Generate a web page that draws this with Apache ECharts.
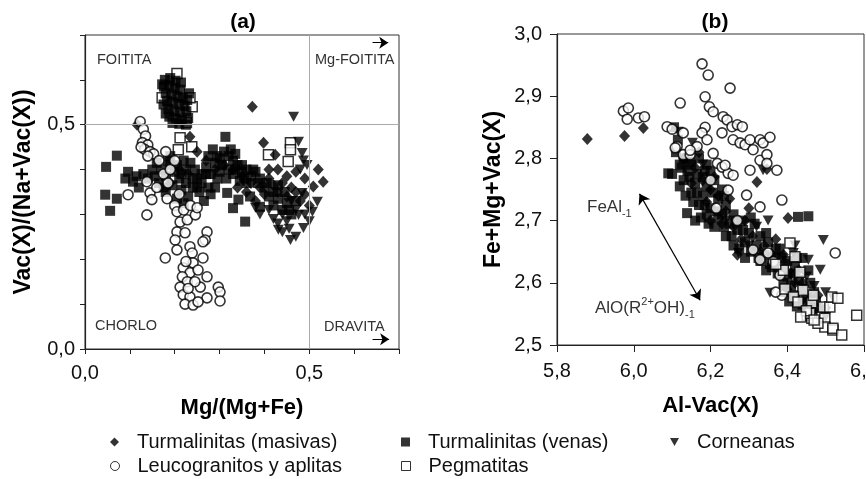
<!DOCTYPE html>
<html>
<head>
<meta charset="utf-8">
<script src="https://cdn.jsdelivr.net/npm/echarts@6/dist/echarts.min.js"></script>
<style>
html,body{margin:0;padding:0;background:#fff;}
#c{width:866px;height:479px;}
</style>
</head>
<body>
<div id="c"></div>
<script>
// ---------- DATA ----------
const seriesNames = ['Turmalinitas (masivas)', 'Turmalinitas (venas)', 'Corneanas', 'Leucogranitos y aplitas', 'Pegmatitas'];

// Panel (a): [Mg/(Mg+Fe), Vac(X)/(Na+Vac(X))]
const aMasivas = [[0.373,0.540],[0.116,0.500],[0.234,0.473],[0.398,0.460],[0.424,0.433],[0.520,0.400],[0.531,0.373],[0.509,0.362],[0.250,0.440],[0.270,0.420],[0.290,0.400],[0.310,0.410],[0.330,0.400],[0.350,0.385],[0.370,0.370],[0.390,0.360],[0.410,0.380],[0.420,0.365],[0.430,0.350],[0.440,0.370],[0.450,0.340],[0.460,0.360],[0.470,0.350],[0.480,0.330],[0.490,0.345],[0.500,0.320],[0.400,0.345],[0.380,0.330],[0.360,0.350],[0.340,0.360],[0.470,0.395],[0.490,0.380],[0.210,0.400],[0.190,0.370],[0.230,0.390],[0.450,0.385],[0.430,0.400],[0.410,0.400]];
const aVenas = [[0.178,0.600],[0.190,0.604],[0.202,0.598],[0.214,0.594],[0.176,0.585],[0.188,0.588],[0.200,0.582],[0.212,0.578],[0.180,0.570],[0.193,0.567],[0.206,0.563],[0.218,0.560],[0.183,0.553],[0.196,0.550],[0.209,0.546],[0.222,0.542],[0.186,0.535],[0.199,0.530],[0.212,0.527],[0.226,0.530],[0.188,0.518],[0.202,0.514],[0.216,0.511],[0.230,0.515],[0.195,0.504],[0.210,0.502],[0.225,0.500],[0.232,0.570],[0.228,0.555],[0.175,0.545],[0.172,0.590],[0.180,0.525],
 [0.047,0.406],[0.071,0.431],[0.045,0.344],[0.071,0.335],[0.056,0.308],[0.096,0.395],[0.107,0.373],[0.090,0.380],[0.120,0.360],[0.130,0.390],[0.150,0.400],[0.160,0.415],[0.170,0.400],[0.180,0.385],[0.190,0.410],[0.200,0.395],[0.210,0.380],[0.195,0.365],[0.215,0.355],[0.225,0.370],[0.230,0.340],[0.220,0.325],[0.205,0.335],[0.240,0.360],[0.250,0.380],[0.245,0.400],[0.260,0.390],[0.235,0.415],[0.270,0.405],[0.280,0.390],[0.290,0.415],[0.300,0.425],[0.310,0.440],[0.320,0.430],[0.330,0.420],[0.340,0.410],[0.350,0.395],[0.360,0.400],[0.370,0.385],[0.380,0.395],[0.300,0.395],[0.315,0.380],[0.330,0.390],[0.345,0.375],[0.360,0.370],[0.313,0.473],[0.317,0.348],[0.342,0.333],[0.368,0.340],[0.390,0.317],[0.357,0.284],[0.330,0.314],[0.255,0.350],[0.265,0.330],[0.280,0.345],[0.290,0.360],[0.400,0.360],[0.410,0.340],[0.420,0.320],[0.430,0.335],[0.440,0.310],[0.450,0.325],[0.460,0.300],[0.390,0.380],[0.180,0.350],[0.165,0.370],[0.140,0.380],[0.115,0.385],[0.190,0.430],[0.220,0.420],[0.275,0.430],[0.285,0.445],
 [0.155,0.385],[0.175,0.360],[0.185,0.420],[0.205,0.410],[0.225,0.400],[0.215,0.390],[0.240,0.380],[0.260,0.370],[0.275,0.360],[0.250,0.360],[0.270,0.390],[0.295,0.380],[0.305,0.410],[0.320,0.400],[0.335,0.400],[0.350,0.410],[0.325,0.445],[0.335,0.435],[0.295,0.430],[0.355,0.380],[0.375,0.400],[0.385,0.370],[0.405,0.370],[0.420,0.350],[0.430,0.365],[0.445,0.350],[0.455,0.310],[0.470,0.330]];
const aCorneanas = [[0.465,0.518],[0.476,0.462],[0.484,0.437],[0.487,0.420],[0.431,0.266],[0.458,0.243],[0.487,0.270],[0.455,0.268],[0.484,0.348],[0.518,0.328],[0.507,0.306],[0.476,0.299],[0.440,0.300],[0.450,0.285],[0.470,0.310],[0.490,0.300],[0.460,0.330],[0.420,0.290],[0.410,0.310],[0.430,0.280],[0.500,0.285],[0.390,0.300],[0.380,0.315],[0.470,0.250],[0.440,0.260],[0.495,0.410],[0.480,0.400]];
const aLeuco = [[0.123,0.507],[0.130,0.490],[0.135,0.475],[0.128,0.460],[0.140,0.455],[0.133,0.445],[0.145,0.440],[0.153,0.435],[0.140,0.430],[0.125,0.450],
 [0.096,0.344],[0.138,0.373],[0.145,0.348],[0.149,0.333],[0.138,0.299],[0.183,0.335],[0.185,0.370],[0.160,0.360],[0.175,0.390],[0.190,0.400],[0.200,0.420],[0.165,0.420],[0.180,0.440],[0.210,0.345],[0.200,0.320],
 [0.205,0.306],[0.212,0.283],[0.228,0.288],[0.246,0.299],[0.205,0.261],[0.223,0.259],[0.272,0.261],[0.201,0.243],[0.268,0.243],[0.179,0.203],[0.205,0.221],[0.234,0.228],[0.239,0.214],[0.263,0.203],[0.241,0.192],[0.219,0.181],[0.234,0.170],[0.252,0.176],[0.272,0.161],[0.217,0.161],[0.228,0.150],[0.212,0.138],[0.257,0.138],[0.297,0.138],[0.301,0.127],[0.219,0.121],[0.234,0.116],[0.272,0.114],[0.301,0.107],[0.223,0.100],[0.241,0.098],[0.252,0.105],[0.263,0.239],[0.225,0.195],[0.245,0.150],[0.230,0.135],[0.220,0.310],[0.235,0.320],[0.250,0.315]];
const aPegma = [[0.205,0.614],[0.239,0.540],[0.172,0.560],[0.234,0.560],[0.226,0.505],[0.212,0.471],[0.238,0.451],[0.208,0.444],[0.409,0.433],[0.458,0.460],[0.458,0.444],[0.453,0.418]];

// Panel (b): [Al-Vac(X), Fe+Mg+Vac(X)]
const bMasivas = [[5.879,2.831],[5.976,2.836],[6.025,2.849],[6.321,2.762],[6.402,2.704],[6.270,2.645],[6.347,2.783],[6.130,2.800],[6.160,2.785],[6.180,2.765],[6.200,2.750],[6.150,2.760],[6.220,2.740],[6.240,2.715],[6.200,2.700],[6.230,2.695],[6.260,2.690],[6.290,2.700],[6.310,2.675],[6.280,2.670],[6.340,2.660],[6.360,2.645],[6.330,2.650],[6.380,2.630],[6.410,2.615],[6.390,2.645],[6.430,2.620],[6.400,2.590],[6.440,2.600],[6.460,2.575],[6.480,2.580],[6.500,2.560],[6.470,2.555],[6.420,2.600],[6.370,2.670],[6.300,2.720],[6.190,2.730],[6.250,2.735],[6.210,2.770],[6.170,2.810]];
const bVenas = [[6.110,2.810],[6.130,2.800],[6.150,2.790],[6.170,2.800],[6.190,2.790],[6.140,2.780],[6.180,2.770],[6.200,2.780],[6.120,2.790],[6.100,2.775],[6.130,2.765],[6.160,2.760],[6.190,2.755],[6.210,2.765],[6.230,2.750],[6.150,2.745],[6.180,2.740],[6.220,2.735],[6.120,2.755],[6.170,2.725],[6.200,2.720],[6.240,2.725],[6.260,2.710],[6.220,2.705],[6.190,2.710],[6.280,2.700],[6.250,2.695],[6.210,2.690],[6.270,2.685],[6.300,2.680],[6.330,2.675],[6.290,2.665],[6.320,2.660],[6.350,2.665],[6.240,2.675],[6.370,2.655],[6.260,2.660],[6.340,2.645],[6.370,2.640],[6.400,2.635],[6.360,2.625],[6.390,2.620],[6.420,2.625],[6.330,2.635],[6.440,2.640],[6.380,2.655],[6.400,2.610],[6.430,2.605],[6.410,2.595],[6.440,2.590],[6.460,2.600],[6.420,2.580],[6.450,2.575],[6.390,2.600],[6.470,2.585],[6.440,2.565],[6.460,2.560],[6.480,2.560],[6.450,2.555],[6.090,2.776],[6.139,2.712],[6.455,2.707],[6.428,2.706],[6.105,2.850],[6.115,2.830],
 [6.125,2.785],[6.145,2.770],[6.165,2.775],[6.185,2.780],[6.205,2.745],[6.165,2.745],[6.135,2.740],[6.155,2.730],[6.185,2.725],[6.215,2.715],[6.235,2.740],[6.175,2.705],[6.195,2.695],[6.235,2.690],[6.255,2.675],[6.285,2.685],[6.275,2.655],[6.305,2.650],[6.315,2.695],[6.345,2.680],[6.355,2.630],[6.375,2.615],[6.345,2.620],[6.395,2.585],[6.405,2.570],[6.425,2.562],[6.475,2.570],[6.415,2.615],[6.425,2.640],[6.455,2.620],[6.385,2.640],[6.325,2.640],[6.265,2.700],[6.305,2.705],[6.145,2.795],[6.160,2.700],[6.230,2.710],[6.290,2.640]];
const bCorneanas = [[6.116,2.843],[6.153,2.825],[6.337,2.781],[6.494,2.669],[6.455,2.637],[6.486,2.621],[6.273,2.648],[6.355,2.584],[6.416,2.648],[6.200,2.760],[6.240,2.700],[6.320,2.690],[6.300,2.660],[6.400,2.630],[6.450,2.610],[6.470,2.595],[6.500,2.585],[6.440,2.570],[6.520,2.575],[6.500,2.545],[6.420,2.660],[6.350,2.700],[6.180,2.790]];
const bLeuco = [[5.973,2.876],[5.986,2.881],[5.983,2.863],[6.012,2.865],[6.028,2.867],[6.178,2.952],[6.194,2.934],[6.251,2.913],[6.121,2.889],[6.186,2.899],[6.197,2.883],[6.207,2.875],[6.186,2.850],[6.178,2.841],[6.191,2.830],[6.087,2.851],[6.100,2.847],[6.129,2.841],[6.113,2.819],[6.129,2.806],[6.147,2.806],[6.165,2.819],[6.207,2.808],[6.233,2.867],[6.243,2.862],[6.230,2.841],[6.256,2.851],[6.270,2.854],[6.283,2.851],[6.259,2.830],[6.277,2.825],[6.290,2.822],[6.303,2.830],[6.311,2.814],[6.329,2.830],[6.337,2.825],[6.355,2.834],[6.329,2.797],[6.347,2.806],[6.347,2.792],[6.373,2.781],[6.303,2.781],[6.218,2.792],[6.230,2.786],[6.246,2.776],[6.259,2.773],[6.386,2.733],[6.108,2.817],[6.147,2.813],[6.238,2.789],[6.294,2.741],[6.329,2.722],[6.311,2.653],[6.329,2.637],[6.350,2.648],[6.364,2.634],[6.381,2.612],[6.386,2.580],[6.370,2.585],[6.525,2.648],[6.246,2.749],[6.200,2.765],[6.215,2.720],[6.270,2.700]];
const bPegma = [[6.407,2.664],[6.420,2.642],[6.433,2.617],[6.441,2.588],[6.394,2.590],[6.416,2.577],[6.428,2.569],[6.464,2.568],[6.468,2.580],[6.494,2.561],[6.511,2.561],[6.516,2.577],[6.532,2.575],[6.452,2.548],[6.464,2.543],[6.459,2.551],[6.498,2.543],[6.498,2.529],[6.519,2.524],[6.519,2.527],[6.542,2.516],[6.581,2.548],[6.480,2.535],[6.390,2.620],[6.370,2.630],[6.450,2.555],[6.435,2.545],[6.470,2.540]];

// axis ranges
const aRange = {min: 0, max: 0.7, step: 0.1, labelled: [0, 0.5]};
const bX = {min: 5.8, max: 6.6, step: 0.2};
const bY = {min: 2.5, max: 3.0, step: 0.1};

// ---------- CHART ----------
const FONT = '"Liberation Sans", Arial, Helvetica, sans-serif';
const chart = echarts.init(document.getElementById('c'), null, {renderer: 'canvas'});
const comma = v => v.toFixed(1).replace('.', ',');

const styles = [
  {symbol: 'diamond', symbolSize: [11, 12], itemStyle: {color: '#000'}},
  {symbol: 'rect', symbolSize: 10, itemStyle: {color: '#000'}},
  {symbol: 'path://M0,0L10,0L5,9Z', symbolSize: [11, 10], itemStyle: {color: '#000'}},
  {symbol: 'circle', symbolSize: 10, itemStyle: {color: '#fff', borderColor: '#000', borderWidth: 1.6}},
  {symbol: 'rect', symbolSize: 10, itemStyle: {color: '#fff', borderColor: '#000', borderWidth: 1.5}}
];
const aData = [aMasivas, aVenas, aCorneanas, aLeuco, aPegma];
const bData = [bMasivas, bVenas, bCorneanas, bLeuco, bPegma];

const series = [];
[[aData, 0, [4, 0, 1, 2, 3]], [bData, 1, [0, 1, 2, 3, 4]]].forEach(([set, gi, order]) => {
  order.forEach(k => {
    series.push(Object.assign({
      type: 'scatter', name: seriesNames[k], xAxisIndex: gi, yAxisIndex: gi,
      data: set[k], animation: false, silent: true,
      emphasis: {disabled: true}
    }, JSON.parse(JSON.stringify(styles[k]))));
  });
});

// reference lines & arrows (a)
series.push({
  type: 'scatter', name: 'refA', xAxisIndex: 0, yAxisIndex: 0, data: [], silent: true, animation: false,
  markLine: {
    silent: true, animation: false, symbol: 'none', label: {show: false},
    lineStyle: {color: '#aaa', width: 1, type: 'solid'},
    data: [{xAxis: 0.5}, {yAxis: 0.5}]
  }
});
series.push({
  type: 'scatter', name: 'arrA', xAxisIndex: 0, yAxisIndex: 0, data: [], silent: true, animation: false,
  markLine: {
    silent: true, animation: false, symbol: ['none', 'arrow'], symbolSize: 9, label: {show: false},
    lineStyle: {color: '#000', width: 1, type: 'solid'},
    data: [
      [{coord: [0.641, 0.683]}, {coord: [0.676, 0.683]}],
      [{coord: [0.641, 0.022]}, {coord: [0.678, 0.022]}]
    ]
  }
});
series.push({
  type: 'scatter', name: 'arrB', xAxisIndex: 1, yAxisIndex: 1, data: [], silent: true, animation: false,
  markLine: {
    silent: true, animation: false, symbol: ['arrow', 'arrow'], symbolSize: 10, label: {show: false},
    lineStyle: {color: '#000', width: 1.2, type: 'solid'},
    data: [[{coord: [6.015, 2.743]}, {coord: [6.173, 2.572]}]]
  }
});

const tickLbl = {fontFamily: FONT, fontSize: 20, color: '#111'};
const nameSt = {fontFamily: FONT, fontSize: 22, fontWeight: 'bold', color: '#000'};
const nameStY = {fontFamily: FONT, fontSize: 23, fontWeight: 'bold', color: '#000'};

const legendPos = [[110, 432], [401, 432], [670, 432], [110, 456], [401, 456]];
const legends = seriesNames.map((n, k) => ({
  data: [n], left: legendPos[k][0], top: legendPos[k][1], padding: 0,
  itemWidth: 9, itemHeight: 9, selectedMode: false,
  formatter: '{t|{name}}',
  textStyle: {fontFamily: FONT, fontSize: 20, color: '#111',
    rich: {t: {fontFamily: FONT, fontSize: 20, color: '#111', padding: [0, 0, 0, 13]}}},
  itemStyle: k >= 3 ? {color: '#fff', borderColor: '#000', borderWidth: 1} : {color: '#000', borderWidth: 0}
}));

const txt = (x, y, text, font, extra) => ({
  type: 'text', x: x, y: y, silent: true,
  style: Object.assign({text: text, font: font, fill: '#333', align: 'left', verticalAlign: 'middle',
    textAlign: 'left', textVerticalAlign: 'middle'}, extra || {})
});
const small = '14.5px ' + FONT;

chart.setOption({
  backgroundColor: '#fff',
  animation: false,
  grid: [
    {left: 85, top: 35, width: 314, height: 314, show: true, borderColor: '#333', borderWidth: 1,
     backgroundColor: 'transparent', containLabel: false, outerBoundsMode: 'none'},
    {left: 557, top: 34, width: 307, height: 311, show: true, borderColor: '#333', borderWidth: 1,
     backgroundColor: 'transparent', containLabel: false, outerBoundsMode: 'none'}
  ],
  xAxis: [
    {gridIndex: 0, type: 'value', min: aRange.min, max: aRange.max, interval: aRange.step,
     name: 'Mg/(Mg+Fe)', nameLocation: 'middle', nameGap: 48, nameTextStyle: nameSt,
     axisLine: {lineStyle: {color: '#222', width: 1.2}}, axisTick: {inside: false, length: 5, lineStyle: {color: '#222'}},
     splitLine: {show: false},
     axisLabel: Object.assign({margin: 14, showMinLabel: true, showMaxLabel: true,
       formatter: v => aRange.labelled.some(t => Math.abs(t - v) < 1e-6) ? comma(v) : ''}, tickLbl)},
    {gridIndex: 1, type: 'value', min: bX.min, max: bX.max, interval: bX.step,
     name: 'Al-Vac(X)', nameLocation: 'middle', nameGap: 50, nameTextStyle: nameSt,
     axisLine: {lineStyle: {color: '#222', width: 1.2}}, axisTick: {inside: false, length: 7, lineStyle: {color: '#222'}},
     splitLine: {show: false},
     axisLabel: Object.assign({margin: 16, showMinLabel: true, showMaxLabel: true, formatter: v => comma(v)}, tickLbl)}
  ],
  yAxis: [
    {gridIndex: 0, type: 'value', min: aRange.min, max: aRange.max, interval: aRange.step,
     name: 'Vac(X)/(Na+Vac(X))', nameLocation: 'middle', nameGap: 50, nameTextStyle: nameStY,
     axisLine: {lineStyle: {color: '#222', width: 1.2}}, axisTick: {inside: false, length: 5, lineStyle: {color: '#222'}},
     splitLine: {show: false},
     axisLabel: Object.assign({margin: 10, showMinLabel: true, showMaxLabel: true,
       formatter: v => aRange.labelled.some(t => Math.abs(t - v) < 1e-6) ? comma(v) : ''}, tickLbl)},
    {gridIndex: 1, type: 'value', min: bY.min, max: bY.max, interval: bY.step,
     name: 'Fe+Mg+Vac(X)', nameLocation: 'middle', nameGap: 52, nameTextStyle: nameStY,
     axisLine: {lineStyle: {color: '#222', width: 1.2}}, axisTick: {inside: false, length: 7, lineStyle: {color: '#222'}},
     splitLine: {show: false},
     axisLabel: Object.assign({margin: 15, showMinLabel: true, showMaxLabel: true, formatter: v => comma(v)}, tickLbl)}
  ],
  legend: legends,
  graphic: [
    txt(243, 22, '(a)', 'bold 21px ' + FONT, {fill: '#000', align: 'center', textAlign: 'center'}),
    txt(715, 22, '(b)', 'bold 21px ' + FONT, {fill: '#000', align: 'center', textAlign: 'center'}),
    txt(97, 60, 'FOITITA', small),
    txt(315, 60, 'Mg-FOITITA', small),
    txt(95, 326, 'CHORLO', small),
    txt(324, 327, 'DRAVITA', small),
    txt(587, 207, '{m|FeAl}{s|-1}', '17px ' + FONT, {rich: {
      m: {fontFamily: FONT, fontSize: 17, lineHeight: 24, fill: '#333', color: '#333'},
      s: {fontFamily: FONT, fontSize: 11, lineHeight: 11, verticalAlign: 'bottom', fill: '#333', color: '#333'}
    }}),
    txt(595, 308, '{m|AlO(R}{u|2+}{m|OH)}{s|-1}', '17px ' + FONT, {rich: {
      m: {fontFamily: FONT, fontSize: 17, lineHeight: 24, fill: '#333', color: '#333'},
      u: {fontFamily: FONT, fontSize: 11, lineHeight: 11, verticalAlign: 'top', fill: '#333', color: '#333'},
      s: {fontFamily: FONT, fontSize: 11, lineHeight: 11, verticalAlign: 'bottom', fill: '#333', color: '#333'}
    }})
  ],
  series: series
});
</script>
</body>
</html>
